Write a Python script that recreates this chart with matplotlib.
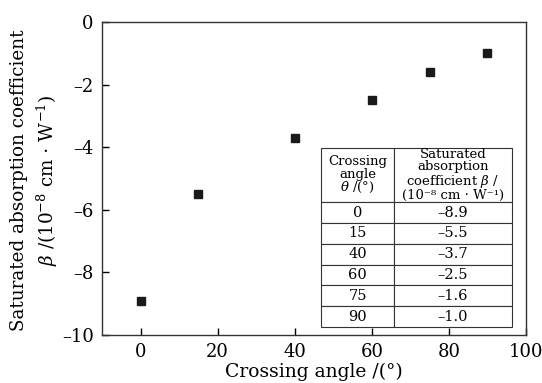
import matplotlib.pyplot as plt

plt.rcParams['font.family'] = 'DejaVu Serif'
plt.rcParams['mathtext.fontset'] = 'dejavuserif'

angle = [0, 15, 40, 60, 75, 90]
beta = [-8.9, -5.5, -3.7, -2.5, -1.6, -1.0]
xticks = [0, 20, 40, 60, 80, 100]
yticks = [0, -2, -4, -6, -8, -10]

fig = plt.figure(figsize=(5.42, 3.83), dpi=100)
ax = fig.add_axes([102 / 542, 1 - 335 / 383, 424 / 542, 313 / 383])

ax.plot(angle, beta, 's', color='#1a1a1a', markersize=6.3, linestyle='none')

ax.set_xlim(-10, 100)
ax.set_ylim(-10, 0)
ax.set_xticks(xticks)
ax.set_yticks(yticks)
ax.set_xticklabels([str(t) for t in xticks])
ax.set_yticklabels(['0' if t == 0 else '\u2013' + str(-t) for t in yticks])
ax.tick_params(direction='in', length=5, width=1, labelsize=13, pad=6,
               top=False, right=False)
for s in ax.spines.values():
    s.set_linewidth(1.0)
    s.set_color('#333333')

ax.set_xlabel('Crossing angle /(°)', fontsize=13.5, labelpad=1)
ax.set_ylabel('Saturated absorption coefficient\n'
              r'$\beta$ /(10$^{-8}$ cm $\cdot$ W$^{-1}$)',
              fontsize=13.2, linespacing=1.35)
ax.yaxis.set_label_coords(-0.1, 0.495)

# inset table
header = ['Crossing\nangle\n' + r'$\theta$' + ' /(°)',
          'Saturated\nabsorption\ncoefficient ' + r'$\beta$' + ' /\n'
          '(10\u207b\u2078 cm \u00b7 W\u207b\u00b9)']
rows = [[str(a), '\u2013' + f'{-b:.1f}'] for a, b in zip(angle, beta)]
tbl = ax.table(cellText=[header] + rows, cellLoc='center',
               colWidths=[73, 118],
               bbox=[(321 - 102) / 424, (335 - 327) / 313,
                     (512 - 321) / 424, (327 - 148) / 313])
tbl.auto_set_font_size(False)
tbl.set_fontsize(10.5)
for (r, c), cell in tbl.get_celld().items():
    cell.set_edgecolor('#333333')
    cell.set_linewidth(0.8)
    if r == 0:
        cell.set_height(cell.get_height() * 2.6)
        cell.get_text().set_linespacing(0.95)
        cell.get_text().set_fontsize(9.5)

fig.savefig('out.png', dpi=100)
